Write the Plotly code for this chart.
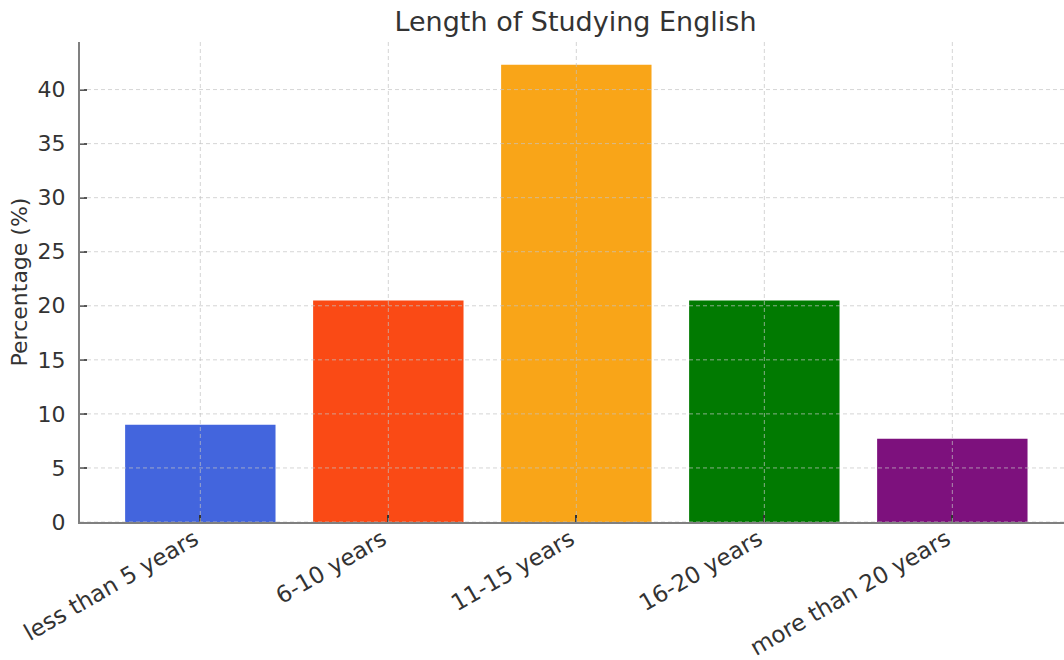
import plotly.graph_objects as go

categories = ["less than 5 years", "6-10 years", "11-15 years", "16-20 years", "more than 20 years"]
percentages = [9.0, 20.5, 42.3, 20.5, 7.7]
bar_colors = ["#4365DD", "#FA4A15", "#F9A518", "#017A01", "#7D117D"]
y_ticks = [0, 5, 10, 15, 20, 25, 30, 35, 40]

FONT = "DejaVu Sans"
fig = go.Figure()
fig.add_trace(go.Bar(
    x=list(range(len(categories))), y=percentages,
    marker=dict(color=bar_colors, line=dict(width=0)),
    width=0.8,
))

grid_color = "rgba(195,195,195,0.7)"
shapes = []
for i in range(len(categories)):
    shapes.append(dict(type="line", xref="x", yref="paper", x0=i, x1=i, y0=0, y1=1,
                       line=dict(color=grid_color, width=1, dash="4px,3px"), layer="above"))
for t in y_ticks:
    shapes.append(dict(type="line", xref="paper", yref="y", x0=0, x1=1, y0=t, y1=t,
                       line=dict(color=grid_color, width=1, dash="4px,3px"), layer="above"))

fig.update_layout(
    width=1064, height=660,
    margin=dict(l=80, r=0, t=42, b=138, pad=0, autoexpand=False),
    plot_bgcolor="white", paper_bgcolor="white",
    font=dict(family=FONT, size=22, color="#333333"),
    showlegend=False,
    bargap=0.2,
    shapes=shapes,
    title=dict(text="Length of Studying English", font=dict(family=FONT, size=27, color="#333333"),
               x=575.5/1064, xanchor="center", xref="container",
               y=1 - 22/660, yanchor="middle", yref="container"),
)
fig.update_xaxes(
    range=[-0.64, 4.594], tickmode="array", tickvals=list(range(len(categories))), ticktext=categories,
    tickangle=-30, showgrid=False, zeroline=False, automargin=False, layer="above traces",
    showline=True, linecolor="#808080", linewidth=2,
    ticks="inside", ticklen=7, tickwidth=2, tickcolor="#333333",
    ticklabelshift=-6, ticklabelstandoff=-7,
    tickfont=dict(family=FONT, size=23, color="#333333"),
)
fig.update_yaxes(
    range=[0, 44.4], tickmode="array", tickvals=y_ticks,
    showgrid=False, zeroline=False, automargin=False, layer="above traces",
    showline=True, linecolor="#808080", linewidth=2,
    ticks="inside", ticklen=7, tickwidth=1.5, tickcolor="#555555",
    ticklabelstandoff=8,
    tickfont=dict(family=FONT, size=22, color="#333333"),
    title=dict(text="Percentage (%)", font=dict(family=FONT, size=22, color="#333333"), standoff=4),
)
fig.write_html("out.html")
